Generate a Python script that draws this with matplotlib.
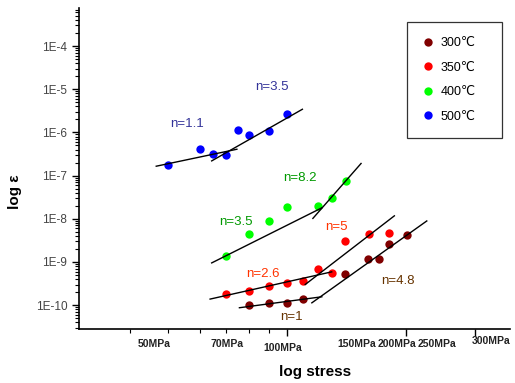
import numpy as np
import matplotlib.pyplot as plt
from matplotlib.ticker import FixedLocator, FuncFormatter, NullFormatter, LogLocator
from matplotlib.transforms import offset_copy

plt.rcParams["font.family"] = ["Liberation Sans", "DejaVu Sans"]

# creep data: stress (MPa) vs strain rate
stress_300 = [80, 90, 100, 110, 140, 160, 171, 181, 201]
rate_300 = [1.0e-10, 1.15e-10, 1.15e-10, 1.38e-10, 5.2e-10, 1.19e-9, 1.16e-9, 2.6e-9, 4.3e-9]
stress_350 = [70, 80, 90, 100, 110, 120, 130, 140, 161, 181]
rate_350 = [1.77e-10, 2.14e-10, 2.75e-10, 3.2e-10, 3.65e-10, 6.8e-10, 5.6e-10, 3.1e-9, 4.4e-9, 4.8e-9]
stress_400 = [70, 80, 90, 100, 120, 130, 141]
rate_400 = [1.4e-9, 4.5e-9, 8.9e-9, 1.86e-8, 1.93e-8, 3.05e-8, 7.4e-8]
stress_500 = [50, 60, 65, 70, 75, 80, 90, 100]
rate_500 = [1.74e-7, 4.2e-7, 3.1e-7, 3.0e-7, 1.12e-6, 8.6e-7, 1.08e-6, 2.64e-6]

# fitted lines (end points)
fit_300_low_x, fit_300_low_y = [75.7, 122.4], [8.7e-11, 1.56e-10]
fit_300_high_x, fit_300_high_y = [115.5, 225.8], [1.13e-10, 8.9e-9]
fit_350_low_x, fit_350_low_y = [63.8, 129.7], [1.38e-10, 5.9e-10]
fit_350_high_x, fit_350_high_y = [111.1, 186.9], [3.0e-10, 1.17e-8]
fit_400_low_x, fit_400_low_y = [64.4, 122.4], [9.5e-10, 1.79e-8]
fit_400_high_x, fit_400_high_y = [116.2, 153.9], [1.02e-8, 1.91e-7]
fit_500_low_x, fit_500_low_y = [46.6, 74.6], [1.65e-7, 4.08e-7]
fit_500_high_x, fit_500_high_y = [64.4, 109.3], [2.19e-7, 3.44e-6]

n_labels = ["n=3.5", "n=1.1", "n=8.2", "n=3.5", "n=5", "n=2.6", "n=1", "n=4.8"]
n_x = [91.5, 55.7, 107.9, 74.1, 133.1, 86.8, 102.4, 190.3]
n_y = [1.13e-5, 1.55e-6, 9.0e-8, 8.5e-9, 6.5e-9, 5.4e-10, 5.4e-11, 3.65e-10]
n_colors = ["#333399", "#333399", "#009900", "#009900", "#ff3300", "#ff3300", "#663300", "#663300"]

stress_labels = ["50MPa", "70MPa", "100MPa", "150MPa", "200MPa", "250MPa", "300MPa"]
stress_label_x = [46, 70.5, 97.7, 149.7, 189.7, 239.8, 328]
stress_label_dy = [-15, -15, -19, -15, -15, -15, -12]

fig = plt.figure(figsize=(5.15, 3.83), dpi=100)
ax = fig.add_axes([0.1534, 0.141, 0.837, 0.838])
ax.set_xscale("log")
ax.set_yscale("log")
ax.set_xlim(29.7, 367)
ax.set_ylim(2.8e-11, 7.6e-4)

series = [
    (stress_300, rate_300, "#800000", "300\u2103"),
    (stress_350, rate_350, "#ff0000", "350\u2103"),
    (stress_400, rate_400, "#00ff00", "400\u2103"),
    (stress_500, rate_500, "#0000ff", "500\u2103"),
]
handles = []
for xs, ys, c, lab in series:
    h, = ax.plot(xs, ys, "o", color=c, markersize=6, markeredgewidth=0, label=lab, zorder=3)
    handles.append(h)

fits = [
    (fit_300_low_x, fit_300_low_y), (fit_300_high_x, fit_300_high_y),
    (fit_350_low_x, fit_350_low_y), (fit_350_high_x, fit_350_high_y),
    (fit_400_low_x, fit_400_low_y), (fit_400_high_x, fit_400_high_y),
    (fit_500_low_x, fit_500_low_y), (fit_500_high_x, fit_500_high_y),
]
for fx, fy in fits:
    ax.plot(fx, fy, color="black", linewidth=1.0, zorder=4)

for lab, x, y, c in zip(n_labels, n_x, n_y, n_colors):
    ax.text(x, y, lab, color=c, fontsize=9.5, ha="center", va="center")

# axes styling
for side in ["top", "right"]:
    ax.spines[side].set_visible(False)
ax.spines["left"].set_linewidth(1.2)
ax.spines["bottom"].set_linewidth(1.2)

ax.yaxis.set_major_locator(FixedLocator([1e-10, 1e-9, 1e-8, 1e-7, 1e-6, 1e-5, 1e-4]))
ax.yaxis.set_minor_locator(LogLocator(base=10, subs=np.arange(2, 10), numticks=20))
ax.yaxis.set_major_formatter(FuncFormatter(lambda v, p: "1E%d" % int(round(np.log10(v)))))
ax.yaxis.set_minor_formatter(NullFormatter())
ax.tick_params(axis="y", which="major", length=5, width=1, labelsize=8.5, labelcolor="#444444")
ax.tick_params(axis="y", which="minor", length=3, width=0.8)

ax.xaxis.set_major_locator(FixedLocator([100, 200, 300]))
ax.xaxis.set_minor_locator(FixedLocator([40, 50, 60, 70, 80, 90]))
ax.xaxis.set_major_formatter(NullFormatter())
ax.xaxis.set_minor_formatter(NullFormatter())
ax.tick_params(axis="x", which="major", length=5, width=1)
ax.tick_params(axis="x", which="minor", length=3, width=0.8)

trans = ax.get_xaxis_transform()
for lab, x, dy in zip(stress_labels, stress_label_x, stress_label_dy):
    t = offset_copy(trans, fig=fig, x=0, y=dy, units="dots")
    ax.text(x, 0, lab, transform=t, fontsize=7.5, fontweight="bold", ha="center", va="center", color="#222222")

fig.text(0.612, 0.029, "log stress", fontsize=11, fontweight="bold", ha="center", va="center")
fig.text(0.03, 0.5, "log \u03b5", fontsize=11, fontweight="bold", ha="center", va="center", rotation=90)

leg = ax.legend(handles=handles, loc="upper left", bbox_to_anchor=(0.761, 0.956, 0.22, 0.0),
                mode="expand", borderaxespad=0,
                fontsize=9, frameon=True, fancybox=False, edgecolor="black", borderpad=1.2,
                labelspacing=1.0, handlelength=1.0, handletextpad=0.5, markerscale=1.0)
leg.get_frame().set_linewidth(0.9)

fig.savefig("out.png", dpi=100)
